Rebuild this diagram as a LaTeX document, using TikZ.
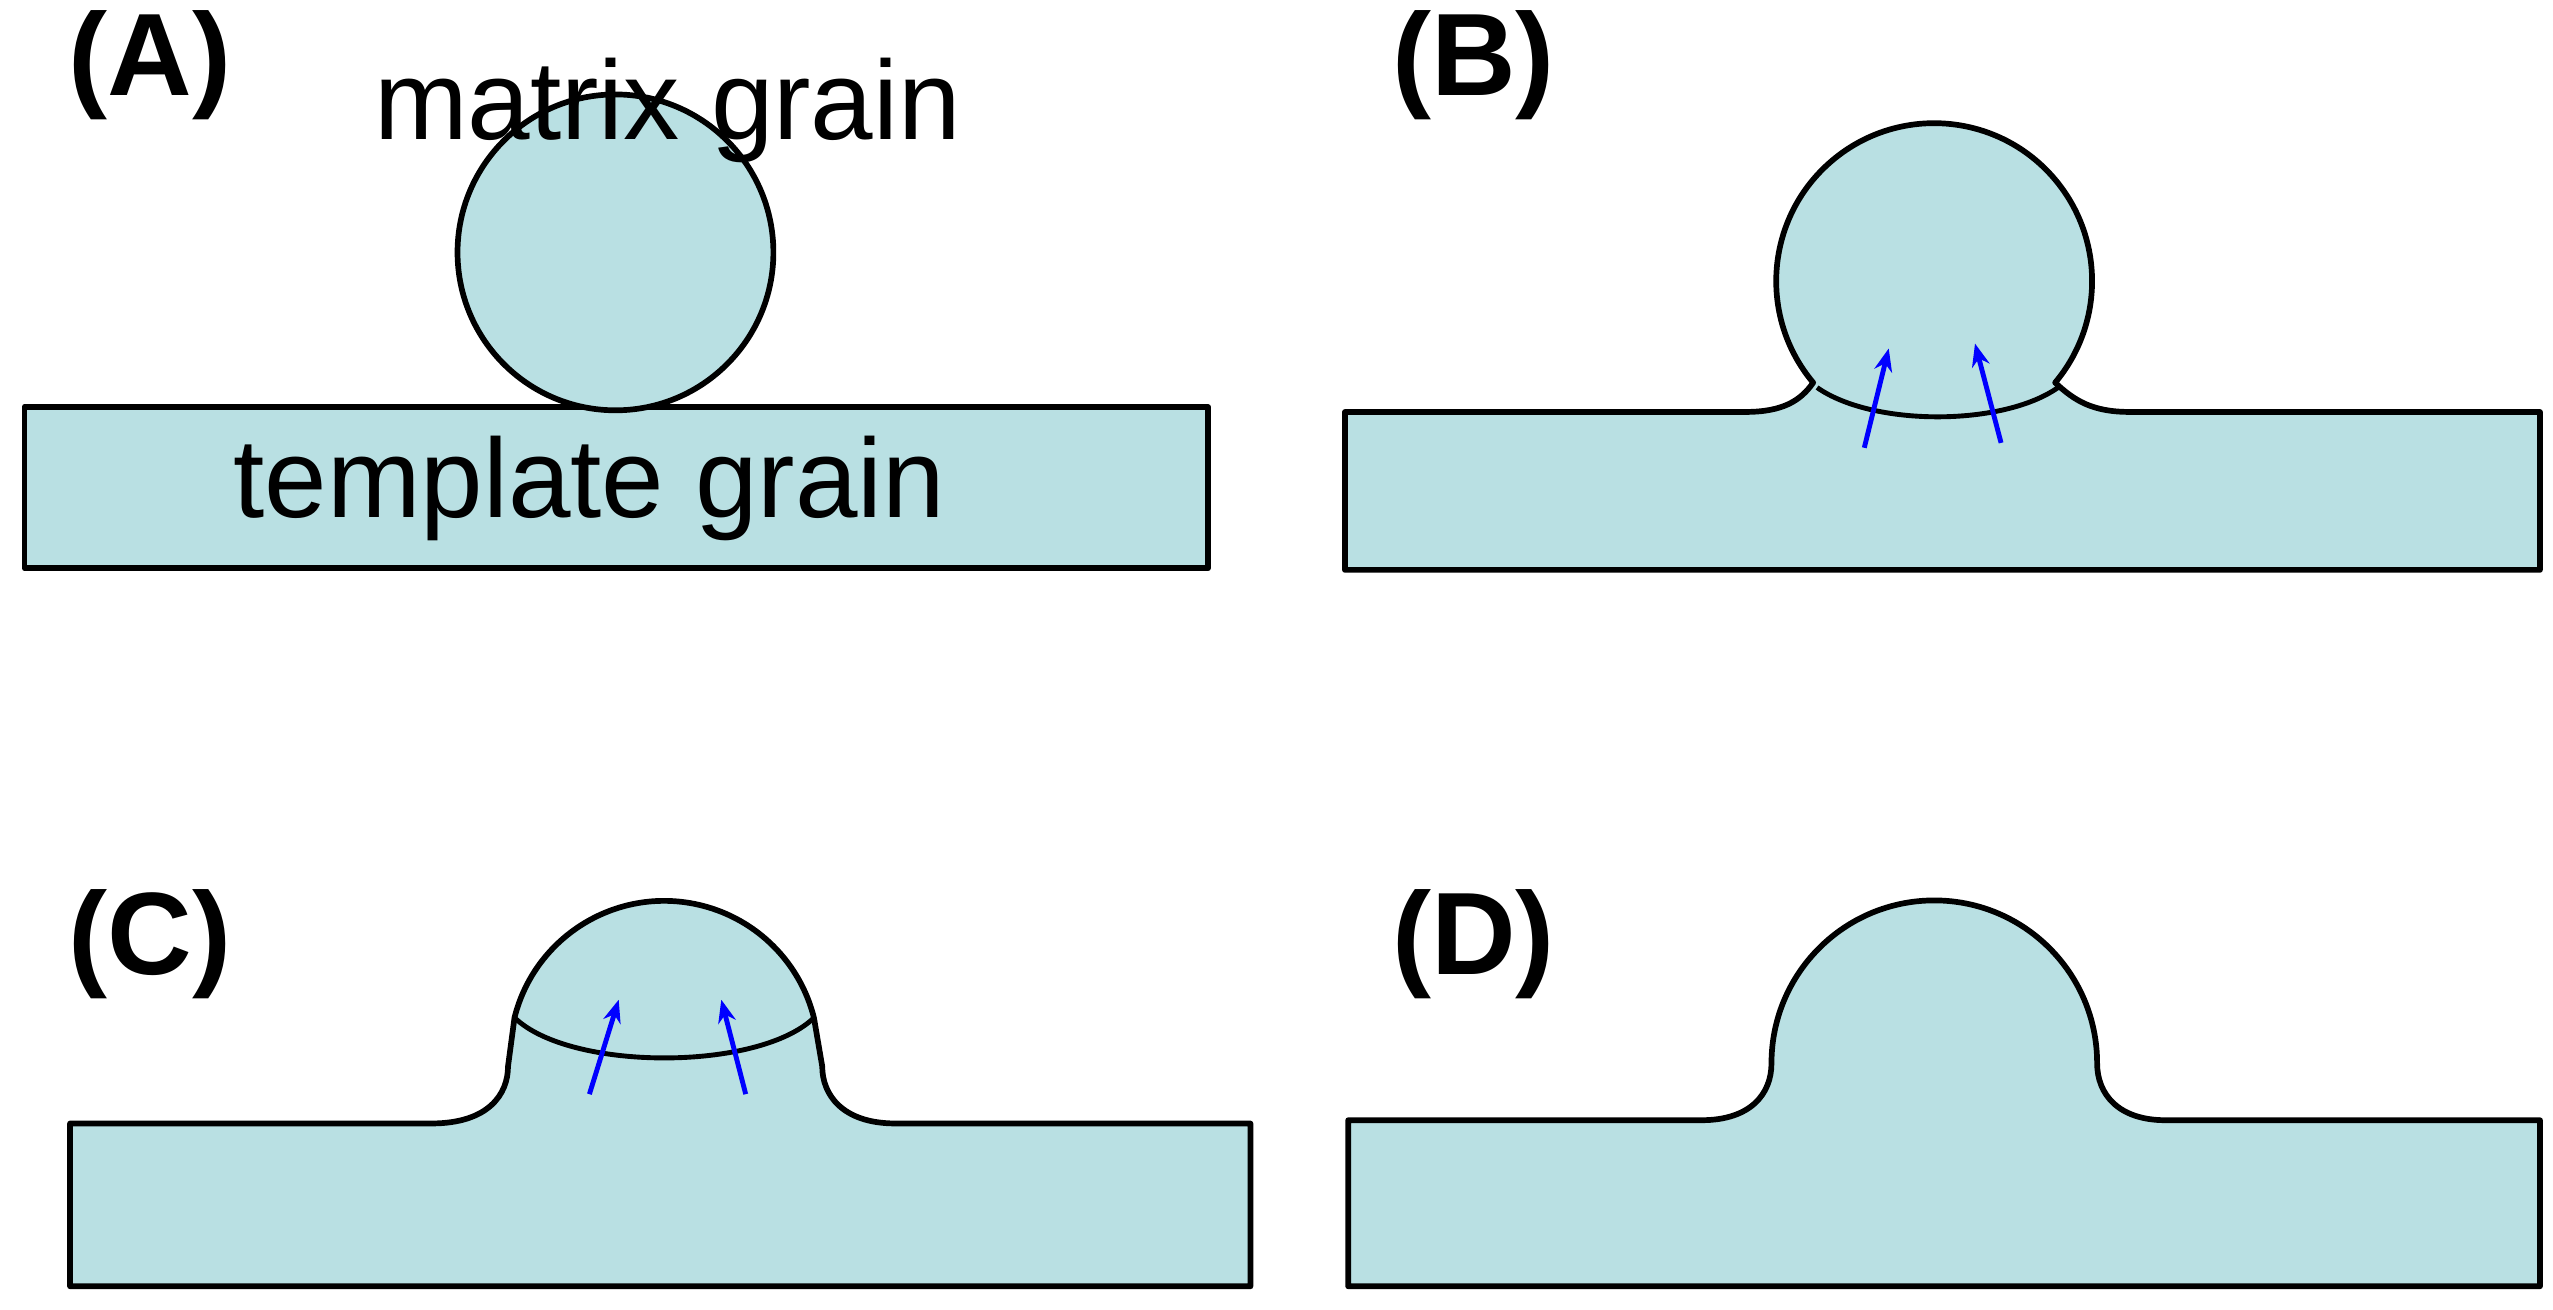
\documentclass[tikz,border=0pt]{standalone}
\usepackage{fontspec}
\usetikzlibrary{arrows.meta}
\setmainfont{Liberation Sans}
\begin{document}
\begin{tikzpicture}[x=1pt,y=-1pt,
  grain/.style={fill=gfill,draw=black,line width=3.5pt,line join=round},
  bnd/.style={draw=black,line width=3pt},
  arr/.style={draw=blue,line width=3pt,-{Stealth[length=14pt,width=11pt]}},
  lab/.style={font=\fontsize{72}{76}\selectfont\bfseries,inner sep=0},
  txt/.style={font=\fontsize{69}{72}\selectfont,inner sep=0}]
\definecolor{gfill}{HTML}{B9E0E3}
\useasboundingbox (0,0) rectangle (1568,804);
% Panel A
\draw[grain] (15,250) rectangle (742,349);
\draw[grain] (378,155) circle (97);
\node[txt] (tg) at (362,300) {template grain};
\node[txt] (mg) at (410,68) {matrix grain};
\node[lab] (la) at (92,40) {(A)};
% Panel B
\draw[grain] (826,253) -- (1072,253) .. controls (1095,253) and (1106,246) .. (1113.6,235)
  arc[start angle=140,end angle=400,radius=97] .. controls (1274,246) and (1285,253) .. (1308,253)
  -- (1560,253) -- (1560,350) -- (826,350) -- cycle;
\draw[bnd] (1116,238) .. controls (1150,262) and (1230,262) .. (1264,238);
\coordinate (b1s) at (1145,275); \coordinate (b1e) at (1160,214);
\coordinate (b2s) at (1229,272); \coordinate (b2e) at (1213,211);
\draw[arr] (b1s) -- (b1e);
\draw[arr] (b2s) -- (b2e);
\node[lab] (lb) at (905,40) {(B)};
% Panel C
\draw[grain] (43,690) -- (265,690) .. controls (300,690) and (312,672) .. (312,655)
  -- (316,625) arc[start angle=194.1,end angle=345.9,radius=94.8]
  -- (505,655) .. controls (505,672) and (517,690) .. (550,690)
  -- (768,690) -- (768,790) -- (43,790) -- cycle;
\draw[bnd] (316,625) .. controls (350,658) and (466,658) .. (500,625);
\coordinate (c1s) at (362,672); \coordinate (c1e) at (380,614);
\coordinate (c2s) at (458,672); \coordinate (c2e) at (443,614);
\draw[arr] (c1s) -- (c1e);
\draw[arr] (c2s) -- (c2e);
\node[lab] (lc) at (92,580) {(C)};
% Panel D
\draw[grain] (828,688) -- (1045,688) .. controls (1075,688) and (1088,672) .. (1088,653)
  arc[start angle=180,end angle=360,radius=100]
  .. controls (1288,672) and (1301,688) .. (1330,688)
  -- (1560,688) -- (1560,790) -- (828,790) -- cycle;
\node[lab] (ld) at (905,580) {(D)};
\end{tikzpicture}
\end{document}
